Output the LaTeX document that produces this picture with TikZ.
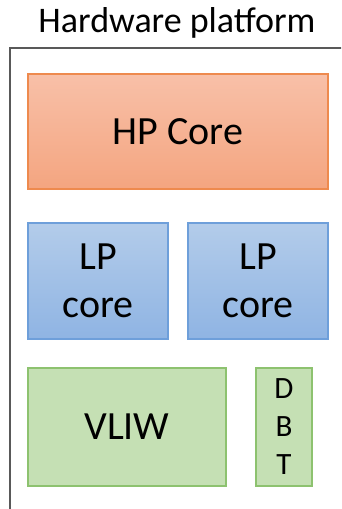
\documentclass[tikz,border=0pt]{standalone}
\usepackage{fontspec}
\setmainfont{Carlito}
\definecolor{frameC}{HTML}{595959}
\definecolor{hpTop}{HTML}{F8C0A8}
\definecolor{hpBot}{HTML}{F4A580}
\definecolor{hpLine}{HTML}{EE8A4E}
\definecolor{lpTop}{HTML}{B3CCEA}
\definecolor{lpBot}{HTML}{8FB4E3}
\definecolor{lpLine}{HTML}{6E9FDA}
\definecolor{grFill}{HTML}{C5E0B4}
\definecolor{grLine}{HTML}{8DC26F}
\tikzset{
  box/.style={draw, line width=1.5pt, inner sep=0pt, align=center, font=\fontsize{40}{48}\selectfont},
  hpbox/.style={box, draw=hpLine, top color=hpTop, bottom color=hpBot},
  lpbox/.style={box, draw=lpLine, top color=lpTop, bottom color=lpBot},
  grbox/.style={box, draw=grLine, fill=grFill},
}
\begin{document}
\begin{tikzpicture}[x=1pt,y=-1pt]
\useasboundingbox (0,0) rectangle (341,509);
\clip (0,0) rectangle (341,509);
\fill[white] (0,0) rectangle (341,509);
\node[font=\fontsize{36}{42}\selectfont] (title) at (177,23) {Hardware platform};
\draw[frameC, line width=2pt] (10,520) -- (10,48) -- (350,48);
\node[hpbox, minimum width=300pt, minimum height=115pt] (hp) at (178,131.5) {HP Core};
\node[lpbox, minimum width=140pt, minimum height=116pt] (lp1) at (98,281) {LP\\core};
\node[lpbox, minimum width=140pt, minimum height=116pt] (lp2) at (258,281) {LP\\core};
\node[grbox, minimum width=198pt, minimum height=118pt] (vliw) at (127,427) {VLIW};
\node[grbox, minimum width=56pt, minimum height=118pt, font=\fontsize{31}{38}\selectfont] (dbt) at (284,427) {D\\B\\T};
\end{tikzpicture}
\end{document}
